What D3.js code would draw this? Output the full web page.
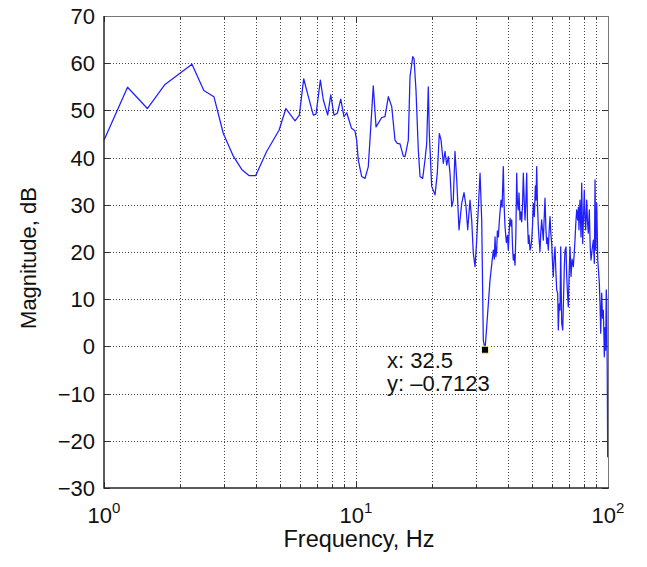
<!DOCTYPE html>
<html>
<head>
<meta charset="utf-8">
<script src="https://cdn.jsdelivr.net/npm/d3@7"></script>
<style>
  html, body { margin: 0; padding: 0; background: #fff; }
  svg { display: block; font-family: "Liberation Sans", Arial, sans-serif; }
</style>
</head>
<body>
<svg id="chart" width="647" height="567"></svg>
<script>
// ---- data ----
const freq = [1.00,1.24,1.486,1.746,2.234,2.49,2.73,2.975,3.26,3.52,3.76,4.0,4.42,4.95,5.27,5.73,5.96,6.2,6.47,6.77,6.94,7.22,7.42,7.72,7.94,8.18,8.43,8.7,8.96,9.19,9.6,9.9,
10.06,10.21,10.53,10.86,11.19,11.36,11.71,12.01,12.26,12.65,13.03,13.44,13.86,14.28,14.58,14.95,15.41,15.65,16.13,16.38,16.79,16.99,17.30,17.67,17.95,18.39,18.78,19.08,19.36,19.54,19.97,20.59,21.02,21.41,21.75,22.21,22.56,22.91,23.25,23.61,23.98,24.33,24.71,25.10,25.63,26.27,26.83,27.33,27.75,28.34,28.78,29.21,29.67,30.13,31.06,31.54,32.0,32.5,33.02,34.03,
35.07,35.4,35.62,35.9,36.17,36.4,36.71,37.1,37.63,38.0,38.42,38.7,39.02,39.5,39.9,40.22,40.5,40.84,41.2,41.49,41.8,42.10,42.4,42.76,43.1,43.42,43.7,44.06,44.35,44.76,45.1,45.46,45.8,46.13,46.5,46.85,47.2,47.58,47.9,48.28,48.6,49.04,49.4,49.80,50.2,50.54,51.0,51.5,51.8,52.13,52.5,52.90,53.3,53.72,54.1,54.56,54.9,55.37,55.8,56.23,56.7,57.11,57.5,57.96,58.4,58.87,59.3,59.79,60.2,60.66,61.1,61.61,62.1,62.58,63.15,63.51,64.0,64.50,64.92,65.2,65.52,66.11,66.6,67.09,67.52,68.13,68.58,69.1,69.58,70.1,70.67,71.32,72.0,72.83,73.4,73.96,74.5,75.12,75.81,76.3,76.71,77.42,78.13,78.63,79.35,79.9,80.54,81.0,81.57,82.33,82.9,83.54,84.31,85.0,85.65,86.5,87.47,88.27,88.83,89.40,90.23,91.06,91.7,92.37,93.0,93.54,94.41,95.1,95.79,96.3,96.67,97.3,97.92,98.4,98.82,99.3,99.72,100];
const magDB = [43.7,54.9,50.4,55.5,59.8,54.2,52.9,45.1,40.3,37.5,36.2,36.2,41.3,45.8,50.4,47.8,49.0,56.7,52.9,49.0,49.2,56.4,52.2,49.0,53.3,49.0,49.4,52.4,48.7,49.5,46.2,45.7,
43.7,39.5,36.0,35.6,38.1,43.7,55.2,46.5,47.3,48.5,48.7,52.9,50.8,43.7,43.0,42.9,40.3,40.2,43.7,57.1,61.4,61.0,54.3,41.6,36.0,35.6,39.5,43.0,55.0,45.1,33.9,32.1,36.7,45.1,43.7,38.8,41.3,38.4,40.2,36.7,29.6,31.0,41.3,35.3,24.7,30.3,32.6,29.6,24.7,31.0,26.8,19.7,16.9,22.5,36.7,26.8,1.4,-0.7123,4.2,14.1,
20.4,18.5,23.2,19.0,20.4,24.5,23.2,27.0,31.0,29.5,38.1,30.0,25.4,22.0,23.5,20.4,24.0,27.2,25.5,26.8,21.0,18.3,19.5,17.2,24.0,36.7,30.5,28.9,32.5,26.8,28.5,26.4,30.0,36.7,31.0,26.8,30.5,36.7,27.0,21.8,23.5,20.4,21.0,22.5,26.0,30.3,27.5,34.0,31.0,38.1,30.0,25.4,22.5,20.1,24.0,26.8,25.0,22.5,27.0,31.4,25.0,21.8,23.0,20.4,24.5,27.5,24.0,21.8,18.0,14.8,18.5,21.1,16.0,12.0,11.3,3.5,9.0,7.7,21.1,12.0,4.9,3.5,10.0,16.9,20.4,21.1,14.8,11.0,8.4,15.0,21.1,14.8,18.5,16.9,19.5,22.5,26.0,28.9,26.8,29.5,24.7,31.0,23.2,34.6,21.8,27.0,33.1,27.5,24.7,31.0,26.5,24.0,28.9,21.0,18.3,20.5,22.5,17.6,35.3,20.4,30.3,18.3,16.0,13.4,9.0,2.8,11.3,6.0,7.7,3.0,-2.2,4.0,-0.8,12.0,9.8,-5.0,-23.4,-18.4];
const yTicks = [-30,-20,-10,0,10,20,30,40,50,60,70];
const xMajor = [1,10,100];
const xMajorExp = ["0","1","2"];
const xMinor = [2,3,4,5,6,7,8,9,20,30,40,50,60,70,80,90];
const cursorX = [32.5];
const cursorY = [-0.7123];
const xLabel = "Frequency, Hz";
const yLabel = "Magnitude, dB";

// ---- layout ----
const W = 647, H = 567;
const m = {left: 104, right: 39, top: 16, bottom: 79};
const iw = W - m.left - m.right, ih = H - m.top - m.bottom;
const svg = d3.select("#chart");
const g = svg.append("g").attr("transform", `translate(${m.left},${m.top})`);

const x = d3.scaleLog().domain([1, 100]).range([0, iw]);
const y = d3.scaleLinear().domain([-30, 70]).range([ih, 0]);

const gridStyle = sel => sel.attr("stroke", "#444").attr("stroke-width", 1).attr("stroke-dasharray", "1,2");

// grid
g.append("g").selectAll("line").data(xMinor.concat([10])).join("line")
  .attr("x1", d => Math.round(x(d)) + 0.5).attr("x2", d => Math.round(x(d)) + 0.5)
  .attr("y1", 0).attr("y2", ih).call(gridStyle);
g.append("g").selectAll("line").data(yTicks.slice(1, -1)).join("line")
  .attr("y1", d => Math.round(y(d)) + 0.5).attr("y2", d => Math.round(y(d)) + 0.5)
  .attr("x1", 0).attr("x2", iw).call(gridStyle);

// ticks (inward, all sides)
const tk = g.append("g").attr("stroke", "#333").attr("stroke-width", 1);
yTicks.forEach(v => {
  const yy = Math.round(y(v)) + 0.5;
  tk.append("line").attr("x1", 0).attr("x2", 6).attr("y1", yy).attr("y2", yy);
  tk.append("line").attr("x1", iw - 6).attr("x2", iw).attr("y1", yy).attr("y2", yy);
});
xMajor.forEach(v => {
  const xx = Math.round(x(v)) + 0.5;
  tk.append("line").attr("x1", xx).attr("x2", xx).attr("y1", ih).attr("y2", ih - 6);
  tk.append("line").attr("x1", xx).attr("x2", xx).attr("y1", 0).attr("y2", 6);
});
xMinor.forEach(v => {
  const xx = Math.round(x(v)) + 0.5;
  tk.append("line").attr("x1", xx).attr("x2", xx).attr("y1", ih).attr("y2", ih - 3);
  tk.append("line").attr("x1", xx).attr("x2", xx).attr("y1", 0).attr("y2", 3);
});

// data line
const line = d3.line().x((d, i) => x(freq[i])).y(d => y(d));
g.append("path").datum(magDB).attr("d", line)
  .attr("fill", "none").attr("stroke", "#1f1fff").attr("stroke-width", 1.25)
  .attr("stroke-linejoin", "round");

// box
g.append("line").attr("x1", 0.5).attr("x2", iw).attr("y1", 0.5).attr("y2", 0.5).attr("stroke", "#777").attr("stroke-width", 1);
g.append("line").attr("x1", iw + 0.5).attr("x2", iw + 0.5).attr("y1", 0).attr("y2", ih).attr("stroke", "#777").attr("stroke-width", 1);
g.append("line").attr("x1", 0).attr("x2", 0).attr("y1", 0).attr("y2", ih + 0.75).attr("stroke", "#262626").attr("stroke-width", 1.5);
g.append("line").attr("x1", 0).attr("x2", iw + 1).attr("y1", ih).attr("y2", ih).attr("stroke", "#262626").attr("stroke-width", 1.5);

// y tick labels
g.append("g").selectAll("text").data(yTicks).join("text")
  .attr("x", -9).attr("y", d => y(d)).attr("dy", "0.36em")
  .attr("text-anchor", "end").attr("font-size", 22).attr("fill", "#111")
  .text(d => d < 0 ? "\u2212" + Math.abs(d) : d);

// x tick labels (10^n)
xMajor.forEach((v, i) => {
  const t = g.append("text").attr("x", x(v)).attr("y", ih + 35)
    .attr("text-anchor", "middle").attr("font-size", 22).attr("fill", "#111");
  t.append("tspan").text("10");
  t.append("tspan").attr("dy", -10).attr("font-size", 15).text(xMajorExp[i]);
});

// axis labels
svg.append("text").attr("x", m.left + iw / 2 + 3).attr("y", 547)
  .attr("text-anchor", "middle").attr("font-size", 23.5).attr("fill", "#111").text(xLabel);
svg.append("text").attr("transform", `translate(36,${m.top + ih / 2 + 6}) rotate(-90)`)
  .attr("text-anchor", "middle").attr("font-size", 22).attr("fill", "#111").text(yLabel);

// data cursor
const cx = x(cursorX[0]), cy = y(cursorY[0]);
g.append("rect").attr("x", cx - 3.5).attr("y", cy - 3.5).attr("width", 7).attr("height", 7)
  .attr("fill", "#000").attr("stroke", "#f5f0a0").attr("stroke-width", 1);
const lab = g.append("text").attr("font-size", 22).attr("fill", "#111");
lab.append("tspan").attr("x", cx - 98).attr("y", cy + 18).text("x: " + cursorX[0]);
lab.append("tspan").attr("x", cx - 98).attr("y", cy + 41).text("y: \u2013" + Math.abs(cursorY[0]));
</script>
</body>
</html>
